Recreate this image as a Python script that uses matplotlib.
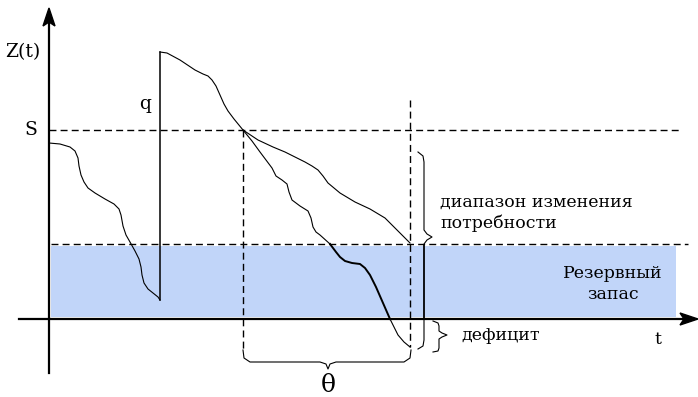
import numpy as np
import matplotlib.pyplot as plt
from matplotlib.patches import Rectangle, Polygon

# picture coordinates (pixels, y grows downwards)
W, H = 698, 397
axis_x, axis_y = 49, 319
s_level = 130
reserve_top = 244

# stock level before the order arrives
curve1_x = [49, 60, 70, 75, 78, 79, 81, 84, 88, 95, 105, 114, 119, 121, 123, 126, 130, 135, 139, 141, 142, 144, 148, 153, 158, 160]
curve1_y = [143, 144, 147, 151, 158, 166, 175, 182, 188, 193, 199, 204, 209, 215, 226, 235, 242, 251, 259, 267, 275, 283, 289, 293, 297, 300]

# after replenishment q
curve2_x = [160, 167, 180, 195, 203, 208, 212, 216, 220, 224, 228, 234, 243]
curve2_y = [52, 53, 60, 70, 74, 76, 80, 86, 95, 104, 111, 119, 130]

# slow demand branch
upper_x = [243, 258, 273, 285, 295, 305, 312, 318, 323, 328, 340, 355, 370, 385, 397, 410]
upper_y = [130, 140, 147, 152, 157, 162, 166, 170, 176, 183, 193, 202, 209, 218, 230, 243]

# fast demand branch (above the reserve / inside it / below zero)
lower_a_x = [243, 252, 260, 266, 272, 276, 282, 287, 289, 292, 300, 308, 311, 313, 316, 320, 330]
lower_a_y = [130, 141, 152, 160, 168, 176, 180, 184, 192, 200, 206, 211, 218, 227, 232, 235, 244]
lower_b_x = [330, 336, 340, 345, 352, 360, 365, 370, 376, 383, 390]
lower_b_y = [244, 252, 257, 261, 263, 264, 268, 275, 287, 303, 319]
lower_c_x = [390, 394, 398, 404, 410]
lower_c_y = [319, 327, 335, 342, 347]

fig = plt.figure(figsize=(W / 100, H / 100), dpi=100)
ax = fig.add_axes([0, 0, 1, 1])
ax.set_xlim(0, W)
ax.set_ylim(H, 0)
ax.axis('off')

serif = 'DejaVu Serif'
blue = '#c1d5f9'

# reserve stock band
ax.add_patch(Rectangle((51, reserve_top + 2), 676 - 51, axis_y - 2 - reserve_top - 2,
                       facecolor=blue, edgecolor='none', zorder=0))

# axes with arrows
ax.plot([axis_x, axis_x], [373, 20], color='black', lw=1.6)
ax.plot([19, 688], [axis_y, axis_y], color='black', lw=1.6)
ax.add_patch(Polygon([[axis_x - 6, 26], [axis_x, 8], [axis_x + 6, 26], [axis_x, 22]],
                     closed=True, color='black'))
ax.add_patch(Polygon([[680, axis_y - 6], [698, axis_y], [680, axis_y + 6], [684, axis_y]],
                     closed=True, color='black'))

# dashed levels
dash = dict(color='black', lw=1.0, ls=(0, (5, 3)))
ax.plot([axis_x, 680], [s_level, s_level], **dash)
ax.plot([51, 688], [reserve_top, reserve_top], **dash)
ax.plot([243, 243], [s_level, 352], **dash)
ax.plot([410, 410], [100, 347], **dash)

# stock curves
thin = dict(color='black', lw=0.8)
ax.plot(curve1_x, curve1_y, **thin)
ax.plot([160, 160], [300, 52], color='black', lw=1.1)
ax.plot(curve2_x, curve2_y, **thin)
ax.plot(upper_x, upper_y, **thin)
ax.plot(lower_a_x, lower_a_y, **thin)
ax.plot(lower_b_x, lower_b_y, color='black', lw=1.4)
ax.plot(lower_c_x, lower_c_y, **thin)

# solid marker line at the deficit point
ax.plot([424, 424], [reserve_top + 1, axis_y], color='black', lw=1.1)

# bottom brace (theta)
bx = [243, 244, 250, 320, 326, 328, 330, 336, 404, 410, 411]
by = [350, 358, 362, 362, 364, 369, 364, 362, 362, 358, 350]
ax.plot(bx, by, color='black', lw=0.8)

# right brace (range of demand)
rx = [418, 423, 424, 424, 427, 432, 427, 424, 424, 423, 418]
ry = [152, 156, 162, 230, 234, 237, 240, 244, 340, 346, 349]
ax.plot(rx, ry, color='black', lw=0.8)

# deficit brace
dx = [433, 438, 439, 439, 442, 447, 442, 439, 439, 438, 433]
dy = [321, 323, 326, 331, 333, 335, 337, 339, 348, 351, 352]
ax.plot(dx, dy, color='black', lw=0.8)

# labels
fs = 12.5
ax.text(5, 52, 'Z(t)', fontsize=13.5, family=serif, va='center', ha='left')
ax.text(31, 130, 'S', fontsize=13.5, family=serif, va='center', ha='center')
ax.text(145, 104, 'q', fontsize=13.5, family=serif, va='center', ha='center')
ax.text(440, 213, 'диапазон изменения\nпотребности', fontsize=fs, family=serif,
        va='center', ha='left', linespacing=1.25)
ax.text(613, 284, 'Резервный\nзапас', fontsize=fs, family=serif,
        va='center', ha='center', linespacing=1.3)
ax.text(461, 335, 'дефицит', fontsize=fs, family=serif, va='center', ha='left')
ax.text(658, 339, 't', fontsize=fs, family=serif, va='center', ha='center')
ax.text(328, 386, 'θ', fontsize=18, family=serif, va='center', ha='center')

fig.savefig('out.png', dpi=100)
